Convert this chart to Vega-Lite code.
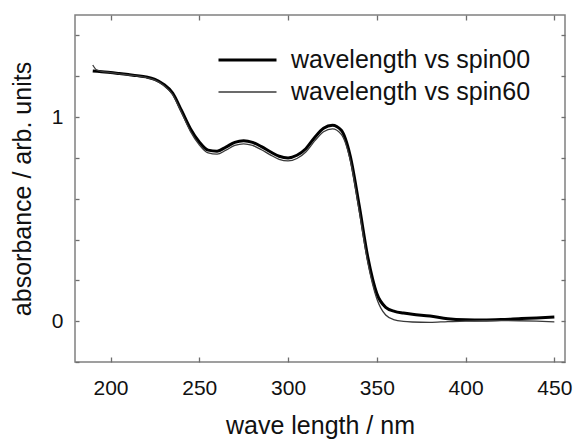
{
  "$schema": "https://vega.github.io/schema/vega-lite/v6.json",
  "width": 490,
  "height": 347,
  "autosize": {"type": "none"},
  "padding": {"left": 75, "top": 15, "right": 11, "bottom": 77},
  "background": "white",
  "config": {
    "font": "Liberation Sans",
    "view": {"stroke": "#808080", "strokeWidth": 1.5},
    "axis": {
      "domain": false,
      "tickColor": "#6e6e6e",
      "ticks": true,
      "tickWidth": 1.3,
      "zindex": 1,
      "grid": false,
      "labelFont": "Liberation Sans",
      "labelFontSize": 21,
      "labelColor": "#111",
      "titleFont": "Liberation Sans",
      "titleFontSize": 25,
      "titleFontWeight": "normal",
      "titleColor": "#111"
    }
  },
  "data": {
    "values": [
      {"wl": 190, "absorbance": 1.226, "series": "wavelength vs spin00"},
      {"wl": 195, "absorbance": 1.222, "series": "wavelength vs spin00"},
      {"wl": 200, "absorbance": 1.218, "series": "wavelength vs spin00"},
      {"wl": 205, "absorbance": 1.213, "series": "wavelength vs spin00"},
      {"wl": 210, "absorbance": 1.208, "series": "wavelength vs spin00"},
      {"wl": 215, "absorbance": 1.203, "series": "wavelength vs spin00"},
      {"wl": 220, "absorbance": 1.197, "series": "wavelength vs spin00"},
      {"wl": 225, "absorbance": 1.185, "series": "wavelength vs spin00"},
      {"wl": 230, "absorbance": 1.160, "series": "wavelength vs spin00"},
      {"wl": 235, "absorbance": 1.118, "series": "wavelength vs spin00"},
      {"wl": 240, "absorbance": 1.032, "series": "wavelength vs spin00"},
      {"wl": 245, "absorbance": 0.943, "series": "wavelength vs spin00"},
      {"wl": 250, "absorbance": 0.878, "series": "wavelength vs spin00"},
      {"wl": 255, "absorbance": 0.838, "series": "wavelength vs spin00"},
      {"wl": 260, "absorbance": 0.833, "series": "wavelength vs spin00"},
      {"wl": 265, "absorbance": 0.853, "series": "wavelength vs spin00"},
      {"wl": 270, "absorbance": 0.876, "series": "wavelength vs spin00"},
      {"wl": 275, "absorbance": 0.884, "series": "wavelength vs spin00"},
      {"wl": 280, "absorbance": 0.876, "series": "wavelength vs spin00"},
      {"wl": 285, "absorbance": 0.855, "series": "wavelength vs spin00"},
      {"wl": 290, "absorbance": 0.830, "series": "wavelength vs spin00"},
      {"wl": 295, "absorbance": 0.808, "series": "wavelength vs spin00"},
      {"wl": 300, "absorbance": 0.800, "series": "wavelength vs spin00"},
      {"wl": 305, "absorbance": 0.813, "series": "wavelength vs spin00"},
      {"wl": 310, "absorbance": 0.845, "series": "wavelength vs spin00"},
      {"wl": 315, "absorbance": 0.900, "series": "wavelength vs spin00"},
      {"wl": 320, "absorbance": 0.945, "series": "wavelength vs spin00"},
      {"wl": 325, "absorbance": 0.960, "series": "wavelength vs spin00"},
      {"wl": 330, "absorbance": 0.935, "series": "wavelength vs spin00"},
      {"wl": 335, "absorbance": 0.810, "series": "wavelength vs spin00"},
      {"wl": 340, "absorbance": 0.570, "series": "wavelength vs spin00"},
      {"wl": 345, "absorbance": 0.310, "series": "wavelength vs spin00"},
      {"wl": 350, "absorbance": 0.135, "series": "wavelength vs spin00"},
      {"wl": 355, "absorbance": 0.068, "series": "wavelength vs spin00"},
      {"wl": 360, "absorbance": 0.048, "series": "wavelength vs spin00"},
      {"wl": 365, "absorbance": 0.040, "series": "wavelength vs spin00"},
      {"wl": 370, "absorbance": 0.034, "series": "wavelength vs spin00"},
      {"wl": 380, "absorbance": 0.025, "series": "wavelength vs spin00"},
      {"wl": 390, "absorbance": 0.012, "series": "wavelength vs spin00"},
      {"wl": 400, "absorbance": 0.007, "series": "wavelength vs spin00"},
      {"wl": 410, "absorbance": 0.006, "series": "wavelength vs spin00"},
      {"wl": 420, "absorbance": 0.008, "series": "wavelength vs spin00"},
      {"wl": 430, "absorbance": 0.012, "series": "wavelength vs spin00"},
      {"wl": 440, "absorbance": 0.016, "series": "wavelength vs spin00"},
      {"wl": 450, "absorbance": 0.021, "series": "wavelength vs spin00"},
      {"wl": 190, "absorbance": 1.255, "series": "wavelength vs spin60"},
      {"wl": 192, "absorbance": 1.232, "series": "wavelength vs spin60"},
      {"wl": 195, "absorbance": 1.224, "series": "wavelength vs spin60"},
      {"wl": 200, "absorbance": 1.218, "series": "wavelength vs spin60"},
      {"wl": 205, "absorbance": 1.212, "series": "wavelength vs spin60"},
      {"wl": 210, "absorbance": 1.206, "series": "wavelength vs spin60"},
      {"wl": 215, "absorbance": 1.201, "series": "wavelength vs spin60"},
      {"wl": 220, "absorbance": 1.194, "series": "wavelength vs spin60"},
      {"wl": 225, "absorbance": 1.181, "series": "wavelength vs spin60"},
      {"wl": 230, "absorbance": 1.155, "series": "wavelength vs spin60"},
      {"wl": 235, "absorbance": 1.110, "series": "wavelength vs spin60"},
      {"wl": 240, "absorbance": 1.022, "series": "wavelength vs spin60"},
      {"wl": 245, "absorbance": 0.930, "series": "wavelength vs spin60"},
      {"wl": 250, "absorbance": 0.864, "series": "wavelength vs spin60"},
      {"wl": 255, "absorbance": 0.824, "series": "wavelength vs spin60"},
      {"wl": 260, "absorbance": 0.818, "series": "wavelength vs spin60"},
      {"wl": 265, "absorbance": 0.838, "series": "wavelength vs spin60"},
      {"wl": 270, "absorbance": 0.861, "series": "wavelength vs spin60"},
      {"wl": 275, "absorbance": 0.869, "series": "wavelength vs spin60"},
      {"wl": 280, "absorbance": 0.861, "series": "wavelength vs spin60"},
      {"wl": 285, "absorbance": 0.840, "series": "wavelength vs spin60"},
      {"wl": 290, "absorbance": 0.815, "series": "wavelength vs spin60"},
      {"wl": 295, "absorbance": 0.793, "series": "wavelength vs spin60"},
      {"wl": 300, "absorbance": 0.785, "series": "wavelength vs spin60"},
      {"wl": 305, "absorbance": 0.797, "series": "wavelength vs spin60"},
      {"wl": 310, "absorbance": 0.829, "series": "wavelength vs spin60"},
      {"wl": 315, "absorbance": 0.883, "series": "wavelength vs spin60"},
      {"wl": 320, "absorbance": 0.928, "series": "wavelength vs spin60"},
      {"wl": 325, "absorbance": 0.942, "series": "wavelength vs spin60"},
      {"wl": 330, "absorbance": 0.915, "series": "wavelength vs spin60"},
      {"wl": 335, "absorbance": 0.790, "series": "wavelength vs spin60"},
      {"wl": 340, "absorbance": 0.545, "series": "wavelength vs spin60"},
      {"wl": 345, "absorbance": 0.285, "series": "wavelength vs spin60"},
      {"wl": 350, "absorbance": 0.110, "series": "wavelength vs spin60"},
      {"wl": 355, "absorbance": 0.030, "series": "wavelength vs spin60"},
      {"wl": 360, "absorbance": 0.006, "series": "wavelength vs spin60"},
      {"wl": 365, "absorbance": -0.001, "series": "wavelength vs spin60"},
      {"wl": 370, "absorbance": -0.004, "series": "wavelength vs spin60"},
      {"wl": 380, "absorbance": -0.006, "series": "wavelength vs spin60"},
      {"wl": 390, "absorbance": -0.002, "series": "wavelength vs spin60"},
      {"wl": 400, "absorbance": 0.000, "series": "wavelength vs spin60"},
      {"wl": 410, "absorbance": 0.002, "series": "wavelength vs spin60"},
      {"wl": 420, "absorbance": 0.003, "series": "wavelength vs spin60"},
      {"wl": 430, "absorbance": 0.002, "series": "wavelength vs spin60"},
      {"wl": 440, "absorbance": 0.000, "series": "wavelength vs spin60"},
      {"wl": 450, "absorbance": -0.003, "series": "wavelength vs spin60"}
    ]
  },
  "layer": [
    {
      "transform": [{"filter": "datum.series == 'wavelength vs spin00'"}],
      "mark": {"type": "line", "interpolate": "monotone"},
      "encoding": {
        "x": {
          "field": "wl", "type": "quantitative",
          "scale": {"domain": [180, 456], "nice": false, "zero": false},
          "axis": {
            "values": [200, 250, 300, 350, 400, 450],
            "offset": -5,
            "tickSize": 5,
            "labelPadding": 15,
            "title": "wave length / nm",
            "titlePadding": 15
          }
        },
        "y": {
          "field": "absorbance", "type": "quantitative",
          "scale": {"domain": [-0.2, 1.5], "nice": false, "zero": false},
          "axis": {
            "values": [-0.2, 0, 0.2, 0.4, 0.6, 0.8, 1, 1.2, 1.4],
            "labelExpr": "datum.value == 0 || datum.value == 1 ? format(datum.value, 'd') : ''",
            "offset": -4,
            "tickSize": 4,
            "labelPadding": 12,
            "title": "absorbance / arb. units",
            "titlePadding": 16
          }
        },
        "color": {
          "field": "series", "type": "nominal",
          "scale": {"domain": ["wavelength vs spin00", "wavelength vs spin60"], "range": ["#000000", "#3a3a3a"]},
          "legend": {
            "orient": "none",
            "legendX": 142,
            "legendY": 31,
            "title": null,
            "symbolType": "stroke",
            "symbolSize": 3364,
            "clipHeight": 28,
            "labelFontSize": 25,
            "labelFont": "Liberation Sans",
            "labelColor": "#111",
            "labelLimit": 400,
            "labelOffset": 13,
            "rowPadding": 4
          }
        },
        "strokeWidth": {
          "field": "series", "type": "nominal",
          "scale": {"domain": ["wavelength vs spin00", "wavelength vs spin60"], "range": [3, 1.3]},
          "legend": null
        }
      }
    },
    {
      "transform": [{"filter": "datum.series == 'wavelength vs spin60'"}],
      "mark": {"type": "line", "interpolate": "monotone"},
      "encoding": {
        "x": {
          "field": "wl", "type": "quantitative",
          "axis": {
            "orient": "top",
            "values": [200, 250, 300, 350, 400, 450],
            "offset": -5,
            "tickSize": 5,
            "labels": false,
            "title": null
          }
        },
        "y": {
          "field": "absorbance", "type": "quantitative",
          "axis": {
            "orient": "right",
            "values": [-0.2, 0, 0.2, 0.4, 0.6, 0.8, 1, 1.2, 1.4],
            "offset": -4,
            "tickSize": 4,
            "labels": false,
            "title": null
          }
        },
        "color": {"field": "series", "type": "nominal"},
        "strokeWidth": {"field": "series", "type": "nominal"}
      }
    }
  ],
  "resolve": {"axis": {"x": "independent", "y": "independent"}}
}
